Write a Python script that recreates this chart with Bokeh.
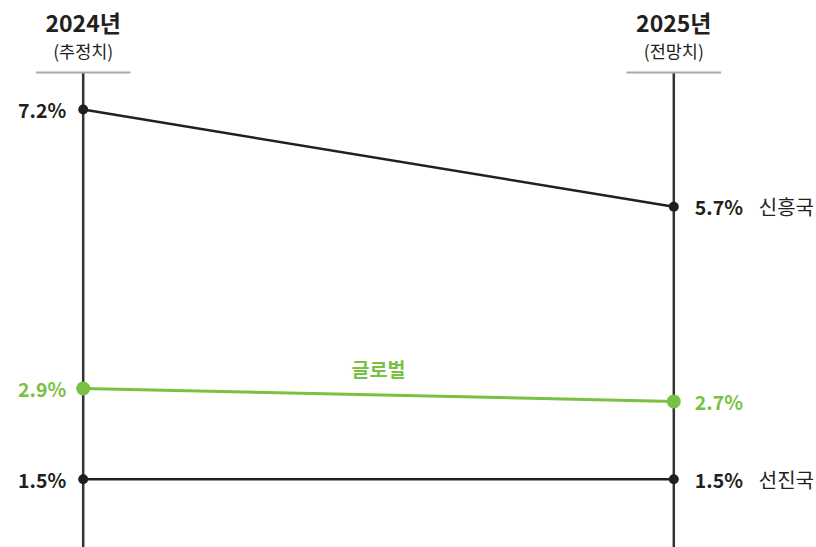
from bokeh.plotting import figure
from bokeh.models import Range1d, Label, ColumnDataSource
from bokeh.core.properties import value
from bokeh.embed import file_html
from bokeh.resources import INLINE

# ---- data ----
years = ["2024년", "2025년"]
year_notes = ["(추정치)", "(전망치)"]
series = ["신흥국", "글로벌", "선진국"]
v2024 = [7.2, 2.9, 1.5]
v2025 = [5.7, 2.7, 1.5]

# ---- style ----
FONT = "Noto Sans CJK KR"
DARK = "#231f20"
GREEN = "#7ac143"
GRAY = "#a7a9ac"
colors = [DARK, GREEN, DARK]

W, H = 816, 547
p = figure(width=W, height=H, output_backend="svg", toolbar_location=None,
           x_range=Range1d(-0.14003, 1.24162), y_range=Range1d(0.449, 8.880),
           min_border=0)
p.axis.visible = False
p.grid.visible = False
p.outline_line_color = None
p.background_fill_color = "white"
p.border_fill_color = "white"

xs_year = [0, 1]
axis_top = 7.770

# vertical axis lines
p.segment(x0=xs_year, x1=xs_year, y0=[axis_top] * 2, y1=[0.3] * 2,
          line_color="#333333", line_width=2.5)
# gray header rules
p.segment(x0=[x - 0.08 for x in xs_year], x1=[x + 0.08 for x in xs_year],
          y0=[axis_top] * 2, y1=[axis_top] * 2, line_color=GRAY, line_width=2)

# headers
for x, yr, note in zip(xs_year, years, year_notes):
    p.add_layout(Label(x=x, y=H - 21, y_units="screen", text=yr, text_align="center",
                       text_baseline="middle", text_font=FONT, text_font_size="23px",
                       text_font_style="bold", text_color=DARK))
    p.add_layout(Label(x=x, y=H - 50, y_units="screen", text=note, text_align="center",
                       text_baseline="middle", text_font=FONT, text_font_size="17.5px",
                       text_color=DARK))

# lines and dots
for name, a, b, c in zip(series, v2024, v2025, colors):
    green = c == GREEN
    p.line([0, 1], [a, b], line_color=c, line_width=3 if green else 2.5)
    p.scatter([0, 1], [a, b], size=14 if green else 10, fill_color=c, line_color=None)

src_l = ColumnDataSource(dict(x=[0] * 3, y=v2024, t=[f"{v}%" for v in v2024], c=colors))
src_r = ColumnDataSource(dict(x=[1] * 3, y=v2025, t=[f"{v}%" for v in v2025], c=colors))
p.text(x="x", y="y", text="t", source=src_l, text_align="right", text_baseline="middle",
       x_offset=-17, text_font=value(FONT), text_font_size="19.5px", text_font_style="bold",
       text_color="c")
p.text(x="x", y="y", text="t", source=src_r, text_align="left", text_baseline="middle",
       x_offset=21, text_font=value(FONT), text_font_size="19.5px", text_font_style="bold",
       text_color="c")

# series names
for name, a, b, c in zip(series, v2024, v2025, colors):
    if c == GREEN:
        p.text(x=[0.5], y=[(a + b) / 2], text=[name], text_align="center",
               text_baseline="bottom", y_offset=-12, text_font=value(FONT),
               text_font_size="19.5px", text_font_style="bold", text_color=c)
    else:
        p.text(x=[1], y=[b], text=[name], text_align="left", text_baseline="middle",
               x_offset=85, text_font=value(FONT), text_font_size="20px", text_color=c)

open("out.html", "w").write(file_html(p, INLINE))
